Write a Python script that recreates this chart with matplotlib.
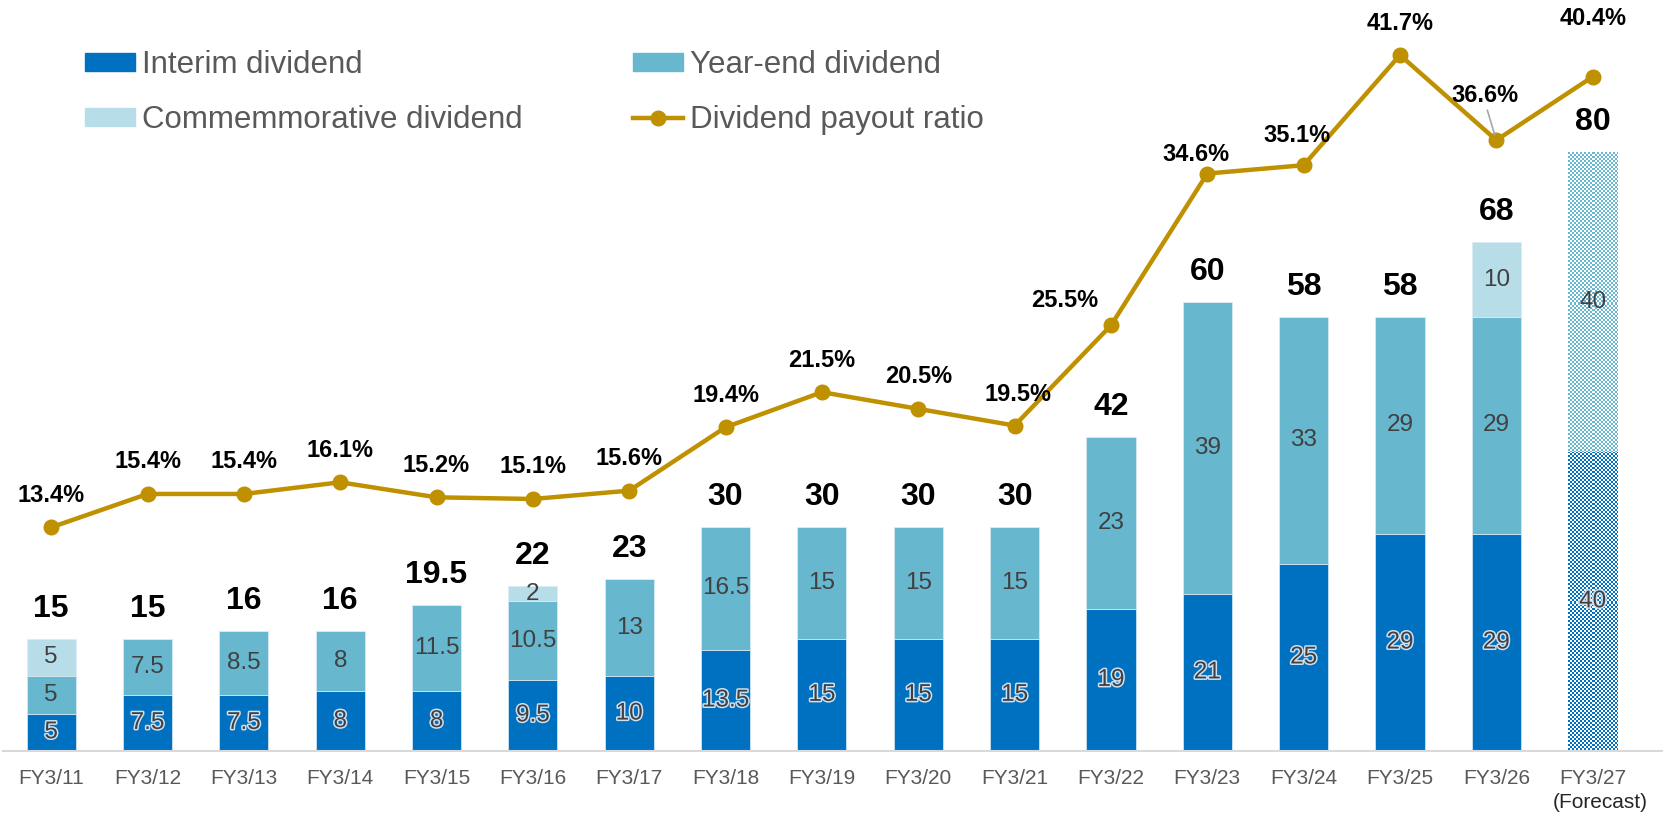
import numpy as np
import matplotlib
matplotlib.use("Agg")
import matplotlib.pyplot as plt
import matplotlib.patheffects as pe
from matplotlib.colors import to_rgb
from matplotlib.lines import Line2D
from matplotlib.patches import Patch

plt.rcParams["font.family"] = ["Liberation Sans", "DejaVu Sans"]

# ---- data ----
YEARS = ["FY3/11", "FY3/12", "FY3/13", "FY3/14", "FY3/15", "FY3/16", "FY3/17",
         "FY3/18", "FY3/19", "FY3/20", "FY3/21", "FY3/22", "FY3/23", "FY3/24",
         "FY3/25", "FY3/26", "FY3/27"]
INTERIM = [5, 7.5, 7.5, 8, 8, 9.5, 10, 13.5, 15, 15, 15, 19, 21, 25, 29, 29, 40]
YEAR_END = [5, 7.5, 8.5, 8, 11.5, 10.5, 13, 16.5, 15, 15, 15, 23, 39, 33, 29, 29, 40]
COMMEM = [5, 0, 0, 0, 0, 2, 0, 0, 0, 0, 0, 0, 0, 0, 0, 10, 0]
TOTAL = ["15", "15", "16", "16", "19.5", "22", "23", "30", "30", "30", "30",
         "42", "60", "58", "58", "68", "80"]
PAYOUT = [13.4, 15.4, 15.4, 16.1, 15.2, 15.1, 15.6, 19.4, 21.5, 20.5, 19.5,
          25.5, 34.6, 35.1, 41.7, 36.6, 40.4]
FORECAST = 16  # index of the forecast year

# ---- style ----
C_INTERIM = "#0070C0"
C_YEAREND = "#67B7CF"
C_COMMEM = "#B7DDE8"
C_LINE = "#BF9000"
C_SEG = "#404040"
C_TICK = "#595959"

# label offsets (pixels) for payout labels that are moved off the default
PCT_OFF = {10: (3, 31), 11: (-46, 25), 12: (-11, 19), 13: (-7, 30),
           15: (-11, 45), 16: (0, 58)}

fig = plt.figure(figsize=(16.63, 8.17), dpi=100)
ax = fig.add_axes([0.0018, 0.0808, 0.9982, 0.9131])
ax.set_xlim(-0.5, 16.73)
ax.set_ylim(0, 99.7)
x = np.arange(len(YEARS))
W = 0.51
interim = np.array(INTERIM, float)
yearend = np.array(YEAR_END, float)
commem = np.array(COMMEM, float)
act = x != FORECAST

ax.bar(x[act], interim[act], W, color=C_INTERIM, edgecolor="#DCEBF5", lw=0.5)
ax.bar(x[act], yearend[act], W, bottom=interim[act], color=C_YEAREND,
       edgecolor="#DCEBF5", lw=0.5)
ax.bar(x[act], commem[act], W, bottom=(interim + yearend)[act], color=C_COMMEM,
       edgecolor="#DCEBF5", lw=0.5)


def checker(bar, color, cell=2):
    # fill a bar with a small checker pattern (Excel "50%" pattern)
    x0, y0, w, h = bar.get_x(), bar.get_y(), bar.get_width(), bar.get_height()
    p0 = ax.transData.transform((x0, y0))
    p1 = ax.transData.transform((x0 + w, y0 + h))
    nx, ny = int(round(p1[0] - p0[0])), int(round(p1[1] - p0[1]))
    ii, jj = np.arange(ny) // cell, np.arange(nx) // cell
    mask = np.add.outer(ii, jj) % 2 == 0
    img = np.where(mask[..., None], np.array(to_rgb(color)), np.ones(3))
    ax.imshow(img, extent=(x0, x0 + w, y0, y0 + h), interpolation="nearest",
              aspect="auto", zorder=bar.get_zorder())


# forecast year, patterned
fb = ax.bar(x[FORECAST], interim[FORECAST], W, facecolor="none", lw=0)
checker(fb[0], C_INTERIM)
ft = ax.bar(x[FORECAST], yearend[FORECAST], W, bottom=interim[FORECAST],
            facecolor="none", lw=0)
checker(ft[0], C_YEAREND)

glow = [pe.withStroke(linewidth=2.2, foreground="#CFE0F0")]
for i in x:
    ax.text(i, interim[i] / 2, f"{INTERIM[i]:g}", ha="center", va="center",
            fontsize=17.5, color=C_SEG, path_effects=glow)
    ax.text(i, interim[i] + yearend[i] / 2, f"{YEAR_END[i]:g}", ha="center",
            va="center", fontsize=17.5, color=C_SEG)
    if commem[i] > 0:
        ax.text(i, interim[i] + yearend[i] + commem[i] / 2, f"{COMMEM[i]:g}",
                ha="center", va="center", fontsize=17.5, color=C_SEG)
    top = interim[i] + yearend[i] + commem[i]
    ax.annotate(TOTAL[i], (i, top), xytext=(0, 30), textcoords="offset pixels",
                ha="center", va="center", fontsize=23, fontweight="bold",
                color="black")

ax.set_xlim(-0.5, 16.73)
ax.set_ylim(0, 99.7)
ax.set_yticks([])
for s in ["top", "left", "right"]:
    ax.spines[s].set_visible(False)
ax.spines["bottom"].set_color("#D9D9D9")
ax.spines["bottom"].set_linewidth(1.5)
ax.set_xticks(x, YEARS)
ax.tick_params(axis="x", length=0, pad=13, labelsize=15, labelcolor=C_TICK)
ax.annotate("(Forecast)", (FORECAST, 0), xytext=(8, -52),
            textcoords="offset pixels", ha="center", va="center",
            fontsize=15, color="#262626")

# ---- payout ratio line ----
ax2 = ax.twinx()
ax2.plot(x, PAYOUT, color=C_LINE, lw=3.2, marker="o", ms=10.5)
ax2.set_ylim(0, 44.7)
ax2.set_yticks([])
for s in ax2.spines.values():
    s.set_visible(False)
for i in x:
    dx, dy = PCT_OFF.get(i, (0, 32))
    ax2.annotate(f"{PAYOUT[i]:.1f}%", (i, PAYOUT[i]), xytext=(dx, dy),
                 textcoords="offset pixels", ha="center", va="center",
                 fontsize=17, fontweight="bold", color="black")
ax2.annotate("", (15, PAYOUT[15]), xytext=(-9, 30), textcoords="offset pixels",
             arrowprops=dict(arrowstyle="-", color="#A6A6A6", lw=1.2,
                             shrinkA=0, shrinkB=4))

handles = [Patch(color=C_INTERIM), Patch(color=C_COMMEM), Patch(color=C_YEAREND),
           Line2D([], [], color=C_LINE, lw=3.2, marker="o", ms=10.5)]
labels = ["Interim dividend", "Commemmorative dividend", "Year-end dividend",
          "Dividend payout ratio"]
ax2.legend(handles, labels, ncol=2, loc="upper left",
           bbox_to_anchor=(85 / 1663, 1 - 50 / 817), bbox_transform=fig.transFigure,
           frameon=False, fontsize=22.5, labelcolor=C_TICK, handlelength=1.6,
           handleheight=0.5, handletextpad=0.22, columnspacing=3.55,
           labelspacing=0.8, borderaxespad=0, borderpad=0)

fig.savefig("out.png", dpi=100)
